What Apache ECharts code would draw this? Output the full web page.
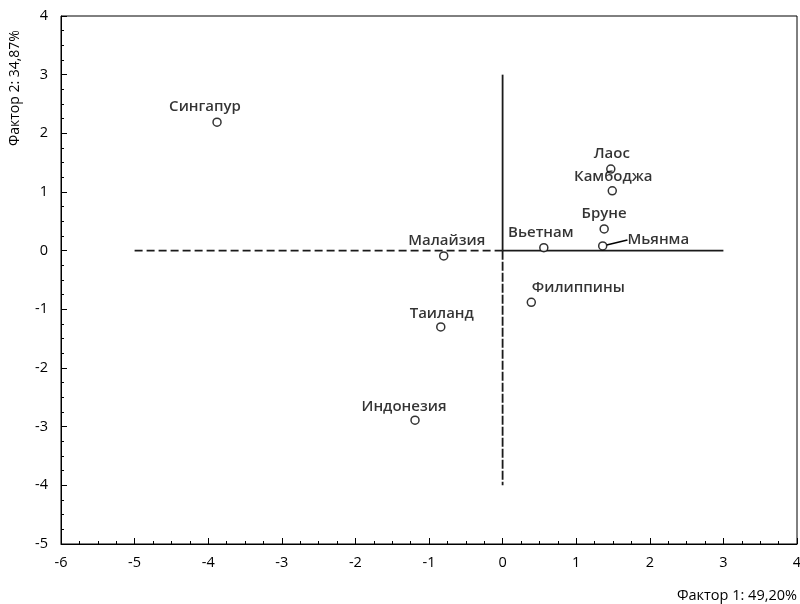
<!DOCTYPE html>
<html><head><meta charset="utf-8">
<script src="https://cdn.jsdelivr.net/npm/echarts@6/dist/echarts.min.js"></script>
<style>html,body{margin:0;padding:0;background:#fff}#c{width:800px;height:604px}</style>
</head><body><div id="c"></div>
<script>
const countries = ['Сингапур','Лаос','Камбоджа','Бруне','Мьянма','Вьетнам','Малайзия','Филиппины','Таиланд','Индонезия'];
const factor1 = [-3.88, 1.47, 1.49, 1.38, 1.36, 0.56, -0.80, 0.39, -0.84, -1.19];
const factor2 = [2.19, 1.39, 1.02, 0.37, 0.08, 0.05, -0.09, -0.88, -1.30, -2.89];
const hDash = [[-5, 0], [0, 0]];
const hSolid = [[0, 0], [3, 0]];
const vSolid = [[0, 3], [0, 0]];
const vDash = [[0, 0], [0, -4]];
const xName = 'Фактор 1: 49,20%';
const yName = 'Фактор 2: 34,87%';

const labelShift = {
  'Сингапур': [-12, 0], 'Лаос': [1, 0], 'Камбоджа': [1, 1], 'Бруне': [0, 0], 'Мьянма': [17, -6],
  'Вьетнам': [-3, 0], 'Малайзия': [3, 0], 'Филиппины': [47, 1], 'Таиланд': [1, 2], 'Индонезия': [-11, 2]
};
const font = '"Open Sans", "Noto Sans", sans-serif';
const pts = countries.map((n, i) => {
  const d = { name: n, value: [factor1[i], factor2[i]] };
  if (n === 'Мьянма') {
    d.label = { position: 'right' };
    d.labelLine = { show: true };
  } else {
    d.label = { position: 'top' };
    d.labelLine = { show: false };
  }
  return d;
});
const chart = echarts.init(document.getElementById('c'), null, { renderer: 'canvas' });
const axisCommon = {
  axisLine: { onZero: false, lineStyle: { color: '#000', width: 1 } },
  axisTick: { inside: true, length: 6, lineStyle: { color: '#000' } },
  minorTick: { show: true, splitNumber: 4, length: 3, lineStyle: { color: '#000' } },
  splitLine: { show: false },
  axisLabel: { color: '#000', fontSize: 14.5, fontFamily: font }
};
const lineSeries = (data, dash) => ({
  type: 'line', data: data, symbol: 'none', silent: true, z: 1,
  lineStyle: { color: '#1a1a1a', width: 1.8, type: dash || 'solid' }
});
chart.setOption({
  animation: false,
  grid: { left: 61, right: 3, top: 16, bottom: 60, show: true, borderColor: '#000', borderWidth: 1, outerBoundsMode: 'none', containLabel: false },
  xAxis: Object.assign({ type: 'value', min: -6, max: 4, interval: 1 }, axisCommon,
    { axisLabel: Object.assign({}, axisCommon.axisLabel, { margin: 11 }) }),
  yAxis: Object.assign({ type: 'value', min: -5, max: 4, interval: 1 }, axisCommon,
    { axisLabel: Object.assign({}, axisCommon.axisLabel, { margin: 13 }) }),
  series: [
    lineSeries(hDash, [8, 4]),
    lineSeries(hSolid),
    lineSeries(vSolid),
    lineSeries(vDash, [9, 2]),
    {
      type: 'scatter', data: pts, symbol: 'circle', symbolSize: 8, z: 3,
      itemStyle: { color: '#fff', borderColor: '#000', borderWidth: 1.5 },
      label: { show: true, formatter: '{b}', color: '#000', fontSize: 15, fontWeight: 600, fontFamily: font, distance: 3 },
      labelLine: { lineStyle: { color: '#000', width: 1.5 } },
      labelLayout: function (p) {
        const s = labelShift[countries[p.dataIndex]] || [0, 0];
        return { dx: s[0], dy: s[1] };
      }
    }
  ],
  graphic: [
    { type: 'text', right: 3, bottom: 1, style: { text: xName, font: '14.5px ' + font, fill: '#000' } },
    { type: 'text', x: 8, y: 146, rotation: Math.PI / 2, style: { text: yName, font: '14px ' + font, fill: '#000' } }
  ]
});
</script></body></html>
